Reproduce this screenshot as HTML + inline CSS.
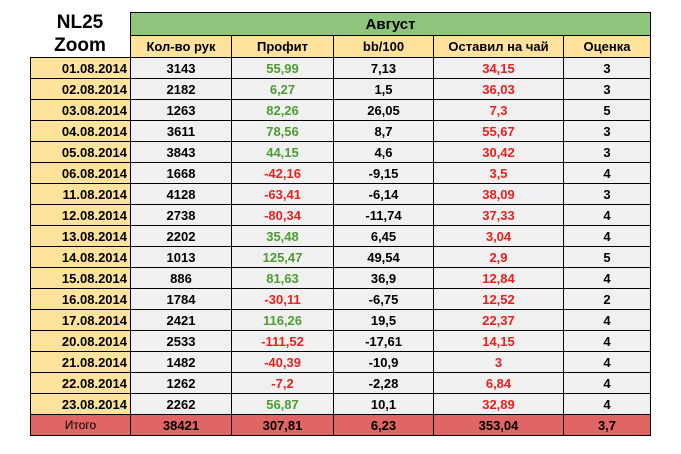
<!DOCTYPE html>
<html><head><meta charset="utf-8">
<style>
html,body{margin:0;padding:0;background:#fff;}
body{width:681px;height:454px;position:relative;overflow:hidden;font-family:"Liberation Sans",Arial,sans-serif;}
.c{position:absolute;box-sizing:border-box;border:1px solid #000;display:flex;align-items:center;justify-content:center;font-size:13px;font-weight:bold;color:#000;}
.title{position:absolute;left:30px;width:100px;text-align:center;font-size:19px;font-weight:bold;}
</style></head>
<body>
<div class="title" style="top:12px;">NL25</div>
<div class="title" style="top:35px;">Zoom</div>
<div id="t"></div>
<script>
const dates=["01.08.2014","02.08.2014","03.08.2014","04.08.2014","05.08.2014","06.08.2014","11.08.2014","12.08.2014","13.08.2014","14.08.2014","15.08.2014","16.08.2014","17.08.2014","20.08.2014","21.08.2014","22.08.2014","23.08.2014"];
const hands=["3143","2182","1263","3611","3843","1668","4128","2738","2202","1013","886","1784","2421","2533","1482","1262","2262"];
const profit=["55,99","6,27","82,26","78,56","44,15","-42,16","-63,41","-80,34","35,48","125,47","81,63","-30,11","116,26","-111,52","-40,39","-7,2","56,87"];
const bb=["7,13","1,5","26,05","8,7","4,6","-9,15","-6,14","-11,74","6,45","49,54","36,9","-6,75","19,5","-17,61","-10,9","-2,28","10,1"];
const tips=["34,15","36,03","7,3","55,67","30,42","3,5","38,09","37,33","3,04","2,9","12,84","12,52","22,37","14,15","3","6,84","32,89"];
const rating=["3","3","5","3","3","4","3","4","4","5","4","2","4","4","4","4","4"];
const headers=["Кол-во рук","Профит","bb/100","Оставил на чай","Оценка"];
const totals=["Итого","38421","307,81","6,23","353,04","3,7"];
const xs=[30,130,231,333,433,563,650];
const top0=57, rh=21;
const t=document.getElementById('t');
function cell(x1,x2,y1,y2,txt,bg,col,name,extra){
  const d=document.createElement('div');
  d.className='c';
  d.style.left=x1+'px';d.style.width=(x2-x1+1)+'px';
  d.style.top=y1+'px';d.style.height=(y2-y1+1)+'px';
  d.style.background=bg;d.style.color=col||'#000';
  if(extra)Object.assign(d.style,extra);
  d.textContent=txt;
  
  
  t.appendChild(d);
}
cell(130,650,12,35,"Август","#8fc47d","#000","month-header",{fontSize:'15px'});
headers.forEach((h,i)=>cell(xs[i+1],xs[i+2],35,57,h,"#ffe29b","#000","column-header"));
const GREEN="#4e9b32", RED="#e8201f";
dates.forEach((d,r)=>{
  const y1=Math.round(top0+r*rh), y2=Math.round(top0+(r+1)*rh);
  cell(xs[0],xs[1],y1,y2,d,"#ffe29b","#000","date-cell",{justifyContent:'flex-end',paddingRight:'3px'});
  cell(xs[1],xs[2],y1,y2,hands[r],"#f0f0f0","#000","hands-cell");
  cell(xs[2],xs[3],y1,y2,profit[r],"#f0f0f0",profit[r].startsWith('-')?RED:GREEN,"profit-cell");
  cell(xs[3],xs[4],y1,y2,bb[r],"#f0f0f0","#000","bb100-cell");
  cell(xs[4],xs[5],y1,y2,tips[r],"#f0f0f0",RED,"tips-cell");
  cell(xs[5],xs[6],y1,y2,rating[r],"#f0f0f0","#000","rating-cell");
});
const ty1=Math.round(top0+dates.length*rh), ty2=435;
totals.forEach((v,i)=>cell(xs[i],xs[i+1],ty1,ty2,v,"#e06666","#000","total-cell",{fontWeight:i==0?'normal':'bold',fontSize:i==0?'12px':'13px'}));
</script>
</body></html>
